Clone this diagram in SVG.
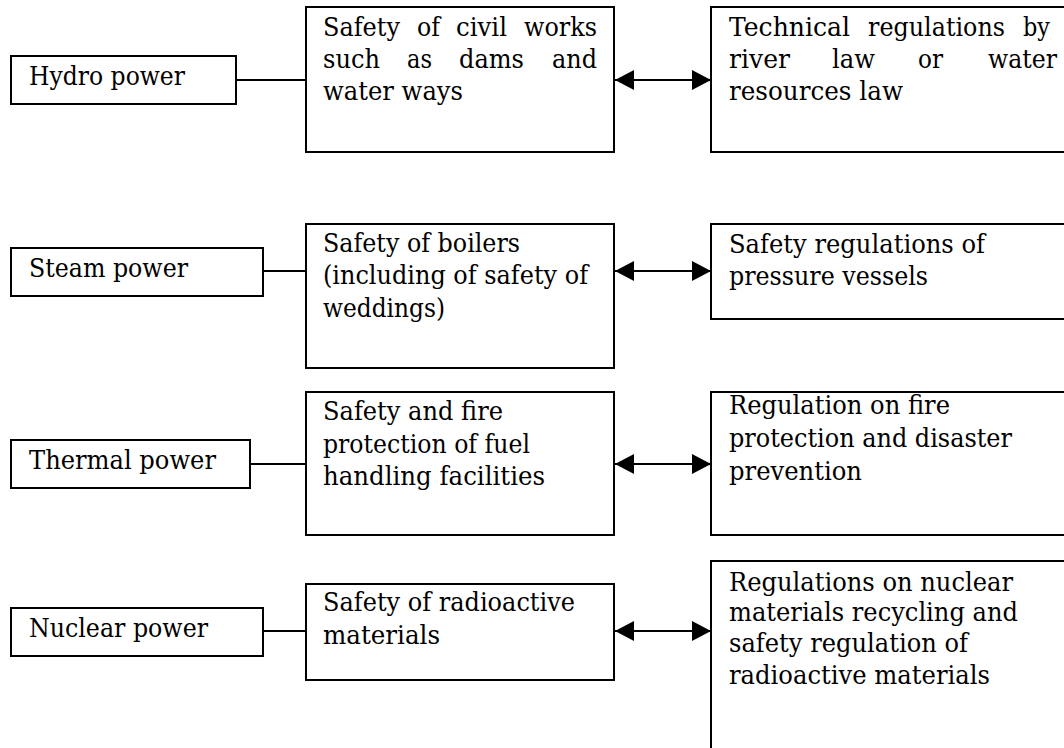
<svg xmlns="http://www.w3.org/2000/svg" width="1064" height="748" viewBox="0 0 1064 748">
  <style>
    .box { fill: #ffffff; stroke: #000000; stroke-width: 2; }
    .link { stroke: #000000; stroke-width: 2; fill: none; }
    .arrow { stroke: #000000; stroke-width: 2; fill: none; marker-start: url(#head); marker-end: url(#head); }
    text { font-family: 'DejaVu Serif', 'Liberation Serif', serif; font-size: 26px; fill: #000000; }
  </style>
  <defs>
    <marker id="head" markerUnits="userSpaceOnUse" markerWidth="20" markerHeight="22" refX="19" refY="10" orient="auto-start-reverse">
      <path d="M0,0 L19,10 L0,20 Z" fill="#000000"/>
    </marker>
  </defs>
  <rect width="1064" height="748" fill="#ffffff"/>

  <!-- Hydro power row -->
  <g id="hydro-source">
    <rect class="box" x="11" y="56" width="225" height="48"/>
    <text x="29" y="85" textLength="156" lengthAdjust="spacingAndGlyphs">Hydro power</text>
  </g>
  <g id="hydro-safety">
    <rect class="box" x="306" y="7" width="308" height="145"/>
    <text y="36"><tspan x="323" textLength="77" lengthAdjust="spacingAndGlyphs">Safety</tspan><tspan x="417" textLength="23" lengthAdjust="spacingAndGlyphs">of</tspan><tspan x="456" textLength="51" lengthAdjust="spacingAndGlyphs">civil</tspan><tspan x="524" textLength="73" lengthAdjust="spacingAndGlyphs">works</tspan></text>
    <text y="68"><tspan x="323" textLength="57" lengthAdjust="spacingAndGlyphs">such</tspan><tspan x="407" textLength="25" lengthAdjust="spacingAndGlyphs">as</tspan><tspan x="459" textLength="65" lengthAdjust="spacingAndGlyphs">dams</tspan><tspan x="552" textLength="45" lengthAdjust="spacingAndGlyphs">and</tspan></text>
    <text x="323" y="100" textLength="140" lengthAdjust="spacingAndGlyphs">water ways</text>
  </g>
  <g id="hydro-regulation">
    <rect class="box" x="711" y="7" width="370" height="145"/>
    <text y="36"><tspan x="729" textLength="121" lengthAdjust="spacingAndGlyphs">Technical</tspan><tspan x="868" textLength="137" lengthAdjust="spacingAndGlyphs">regulations</tspan><tspan x="1023" textLength="27" lengthAdjust="spacingAndGlyphs">by</tspan></text>
    <text y="68"><tspan x="729" textLength="61" lengthAdjust="spacingAndGlyphs">river</tspan><tspan x="832" textLength="43" lengthAdjust="spacingAndGlyphs">law</tspan><tspan x="918" textLength="25" lengthAdjust="spacingAndGlyphs">or</tspan><tspan x="988" textLength="69" lengthAdjust="spacingAndGlyphs">water</tspan></text>
    <text x="729" y="100" textLength="174" lengthAdjust="spacingAndGlyphs">resources law</text>
  </g>

  <!-- Steam power row -->
  <g id="steam-source">
    <rect class="box" x="11" y="248" width="252" height="48"/>
    <text x="29" y="277" textLength="159" lengthAdjust="spacingAndGlyphs">Steam power</text>
  </g>
  <g id="steam-safety">
    <rect class="box" x="306" y="224" width="308" height="144"/>
    <text x="323" y="252" textLength="197" lengthAdjust="spacingAndGlyphs">Safety of boilers</text>
    <text x="323" y="284" textLength="265" lengthAdjust="spacingAndGlyphs">(including of safety of</text>
    <text x="323" y="317" textLength="122" lengthAdjust="spacingAndGlyphs">weddings)</text>
  </g>
  <g id="steam-regulation">
    <rect class="box" x="711" y="224" width="370" height="95"/>
    <text x="729" y="253" textLength="256" lengthAdjust="spacingAndGlyphs">Safety regulations of</text>
    <text x="729" y="285" textLength="199" lengthAdjust="spacingAndGlyphs">pressure vessels</text>
  </g>

  <!-- Thermal power row -->
  <g id="thermal-source">
    <rect class="box" x="11" y="440" width="239" height="48"/>
    <text x="29" y="469" textLength="187" lengthAdjust="spacingAndGlyphs">Thermal power</text>
  </g>
  <g id="thermal-safety">
    <rect class="box" x="306" y="392" width="308" height="143"/>
    <text x="323" y="420" textLength="180" lengthAdjust="spacingAndGlyphs">Safety and fire</text>
    <text x="323" y="453" textLength="207" lengthAdjust="spacingAndGlyphs">protection of fuel</text>
    <text x="323" y="485" textLength="222" lengthAdjust="spacingAndGlyphs">handling facilities</text>
  </g>
  <g id="thermal-regulation">
    <rect class="box" x="711" y="392" width="370" height="143"/>
    <text x="729" y="414" textLength="221" lengthAdjust="spacingAndGlyphs">Regulation on fire</text>
    <text x="729" y="447" textLength="283" lengthAdjust="spacingAndGlyphs">protection and disaster</text>
    <text x="729" y="480" textLength="133" lengthAdjust="spacingAndGlyphs">prevention</text>
  </g>

  <!-- Nuclear power row -->
  <g id="nuclear-source">
    <rect class="box" x="11" y="608" width="252" height="48"/>
    <text x="29" y="637" textLength="179" lengthAdjust="spacingAndGlyphs">Nuclear power</text>
  </g>
  <g id="nuclear-safety">
    <rect class="box" x="306" y="584" width="308" height="96"/>
    <text x="323" y="611" textLength="252" lengthAdjust="spacingAndGlyphs">Safety of radioactive</text>
    <text x="323" y="644" textLength="117" lengthAdjust="spacingAndGlyphs">materials</text>
  </g>
  <g id="nuclear-regulation">
    <rect class="box" x="711" y="561" width="370" height="200"/>
    <text x="729" y="591" textLength="284" lengthAdjust="spacingAndGlyphs">Regulations on nuclear</text>
    <text x="729" y="621" textLength="289" lengthAdjust="spacingAndGlyphs">materials recycling and</text>
    <text x="729" y="652" textLength="239" lengthAdjust="spacingAndGlyphs">safety regulation of</text>
    <text x="729" y="684" textLength="261" lengthAdjust="spacingAndGlyphs">radioactive materials</text>
  </g>

  <!-- Connectors -->
  <g id="connectors">
    <line class="link" x1="236" y1="80" x2="306" y2="80"/>
    <line class="arrow" x1="615" y1="80" x2="711" y2="80"/>
    <line class="link" x1="263" y1="271" x2="306" y2="271"/>
    <line class="arrow" x1="615" y1="271" x2="711" y2="271"/>
    <line class="link" x1="250" y1="464" x2="306" y2="464"/>
    <line class="arrow" x1="615" y1="464" x2="711" y2="464"/>
    <line class="link" x1="263" y1="631" x2="306" y2="631"/>
    <line class="arrow" x1="615" y1="631" x2="711" y2="631"/>
  </g>
</svg>
